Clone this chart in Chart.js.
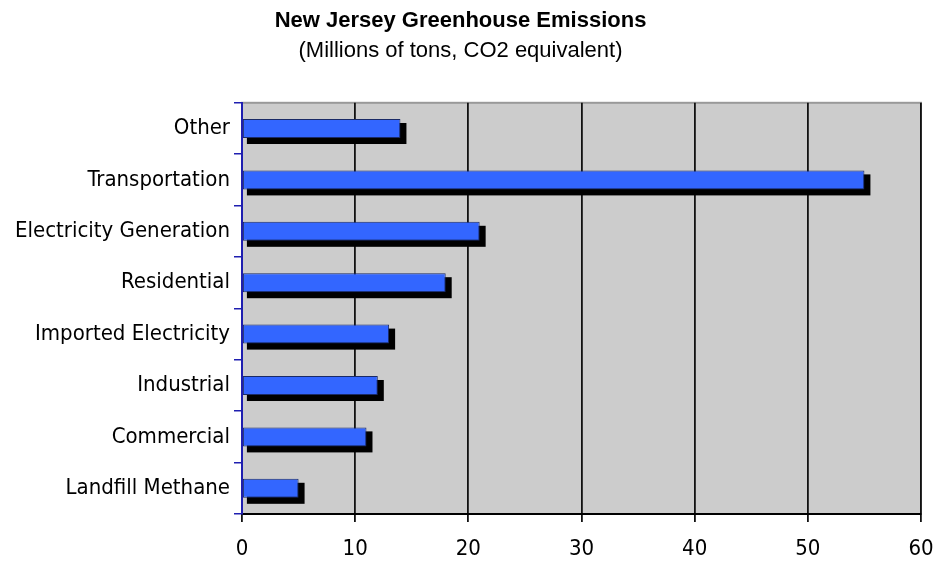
<!DOCTYPE html>
<html>
<head>
<meta charset="utf-8">
<script src="https://cdn.jsdelivr.net/npm/chart.js@4"></script>
<style>
  body { margin: 0; background: #fff; }
  #wrap { width: 937px; height: 562px; }
</style>
</head>
<body>
<div id="wrap"><canvas id="emissions"></canvas></div>
<script>
// data
var categories = ['Other', 'Transportation', 'Electricity Generation', 'Residential',
    'Imported Electricity', 'Industrial', 'Commercial', 'Landfill Methane'];
var emissions = [14, 55, 21, 18, 13, 12, 11, 5];
var xTicks = [0, 10, 20, 30, 40, 50, 60];

var labelFont = "'DejaVu Sans Condensed', 'DejaVu Sans', sans-serif";
var titleFont = "'Liberation Sans', Arial, sans-serif";

// grey plot area with a thin grey frame
var plotBackground = {
    id: 'plotBackground',
    beforeDraw: function (chart) {
        var a = chart.chartArea, ctx = chart.ctx;
        ctx.save();
        ctx.fillStyle = '#cccccc';
        ctx.fillRect(a.left, a.top, a.right - a.left, a.bottom - a.top);
        ctx.strokeStyle = '#999999';
        ctx.lineWidth = 2;
        ctx.strokeRect(a.left, a.top, a.right - a.left, a.bottom - a.top);
        ctx.restore();
    }
};

// black drop shadow behind each bar, placed from the bar elements
var barShadow = {
    id: 'barShadow',
    beforeDatasetsDraw: function (chart) {
        var ctx = chart.ctx;
        ctx.save();
        ctx.fillStyle = '#000000';
        chart.getDatasetMeta(0).data.forEach(function (bar) {
            var top = bar.y - bar.height / 2;
            ctx.fillRect(bar.base + 4, top + 4, bar.x - bar.base + 2, bar.height + 2);
        });
        ctx.restore();
    }
};

var ctx = document.getElementById('emissions').getContext('2d');
var chart = new Chart(ctx, {
    type: 'bar',
    data: {
        labels: categories,
        datasets: [{
            data: emissions,
            backgroundColor: '#3366ff',
            borderColor: '#1a2a66',
            borderWidth: 1,
            borderSkipped: false,
            barPercentage: 0.74,
            categoryPercentage: 0.5
        }]
    },
    options: {
        indexAxis: 'y',
        responsive: true,
        maintainAspectRatio: false,
        animation: false,
        layout: { padding: { left: 0, right: 16, top: 0, bottom: 0 } },
        plugins: {
            legend: { display: false },
            tooltip: { enabled: false },
            title: {
                display: true,
                text: 'New Jersey Greenhouse Emissions',
                color: '#000',
                font: { family: titleFont, size: 22, weight: 'bold' },
                padding: { top: 8, bottom: 3 }
            },
            subtitle: {
                display: true,
                text: '(Millions of tons, CO2 equivalent)',
                color: '#000',
                font: { family: titleFont, size: 22 },
                padding: { top: 0, bottom: 39 }
            }
        },
        scales: {
            x: {
                min: 0,
                max: 60,
                afterBuildTicks: function (scale) {
                    scale.ticks = xTicks.map(function (v) { return { value: v }; });
                },
                afterFit: function (scale) {
                    scale.height = 48;
                    scale.paddingLeft = 0;
                    scale.paddingRight = 0;
                },
                grid: {
                    color: '#111',
                    lineWidth: 1.8,
                    tickLength: 8
                },
                border: { color: '#000', width: 2 },
                ticks: {
                    color: '#000',
                    padding: 14,
                    font: { family: labelFont, size: 22 }
                }
            },
            y: {
                afterFit: function (scale) { scale.width = 242; },
                grid: {
                    drawOnChartArea: false,
                    color: '#1f1fb0',
                    lineWidth: 1.5,
                    tickLength: 8
                },
                border: { color: '#1f1fb0', width: 2 },
                ticks: {
                    color: '#000',
                    padding: 4,
                    font: { family: labelFont, size: 22 }
                }
            }
        }
    },
    plugins: [plotBackground, barShadow]
});
</script>
</body>
</html>
